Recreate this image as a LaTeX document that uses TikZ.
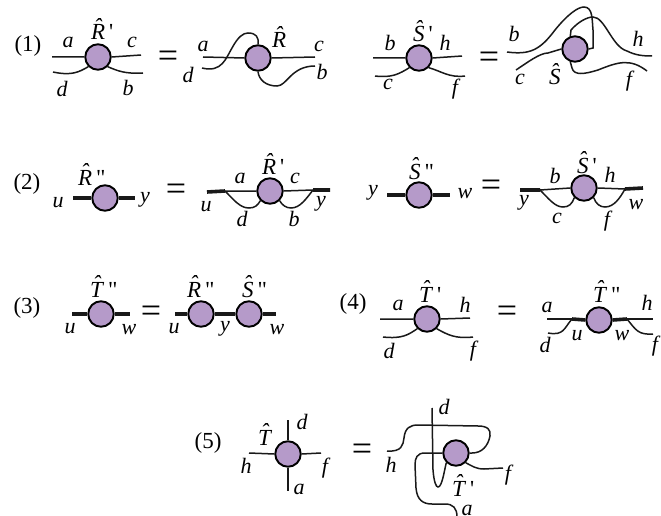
\documentclass[tikz,border=0pt]{standalone}
\usepackage{fontspec}
\setmainfont{Liberation Serif}
\definecolor{blobfill}{HTML}{B59AC9}
\newcommand{\hatlet}[1]{\setbox0=\hbox{\textit{#1}}\rlap{\hbox to\wd0{\hss\raisebox{0.25em}{\textit{\char"02C6}}\hss}}\box0}
\newcommand{\onep}{\,\textquotesingle}
\newcommand{\twop}{\,\textquotedbl}
\begin{document}
\begin{tikzpicture}[x=1pt,y=-1pt,
            blob/.style={circle,draw=black,line width=1.9pt,fill=blobfill,minimum size=25.5pt,inner sep=0pt},
            wire/.style={line width=1.5pt,black!90},
            bus/.style={line width=3.6pt,black!90},
            lab/.style={font=\fontsize{22}{22}\selectfont\itshape,inner sep=0pt,anchor=base},
            vlab/.style={font=\fontsize{23}{23}\selectfont,inner sep=0pt,anchor=base west},
            tag/.style={font=\fontsize{23}{23}\selectfont,inner sep=0pt,anchor=base},
            eqs/.style={font=\fontsize{36}{36}\selectfont,inner sep=0pt,anchor=base}]
  \useasboundingbox (0,0) rectangle (661,516);
  % vertices
  \foreach \n/\x/\y in {Ra/98/57,Rb/258/58,Sa/419/58,Sb/575/49,Rc/105/198,Rd/270/191,Sc/419/195,Sd/584/188,
      Ta/101/314,Re/201/314,Se/249/314,Tb/427/319,Tc/599/320,Td/288/454,Te/456/453}{
    \node[blob] (\n) at (\x,\y) {};}
  % free ends of the strands
  \foreach \n/\x/\y in {a1/52/57,c1/141/55,d1/53/72,b1/143/73,a2/203/57,c2/315/57,d2/202/68,b2/315/66,
      b3/373/58,h3/462/56,c3/375/76,f3/465/76,b4/507/52,h4/652/56,c4/516/70,f4/647/71,
      u5/73/198,y5/135/198,u6/207/192,j6/225/191,k6/313/190,y6/330/190,
      y7/387/195,w7/450/195,y8/520/190,j8/540/190,k8/625/189,w8/643/188,
      u9/72/314,w9/130/314,u10/175/314,w10/276/314,
      a11/380/319,h11/470/318,d11/383/337,f11/473/337,a12/547/319,h12/653/319,j12/572/319,k12/627/319,d12/548/333,f12/653/334,
      h13/249/453,f13/321/453,d13/288/420,a13/288/491,h14/387/451,d14/432/408,f14/503/468,a14/457/517}{
    \coordinate (\n) at (\x,\y);}
  % (1)
  \draw[wire] (a1) -- (Ra.west) (Ra.east) -- (c1);
  \draw[wire] (d1) .. controls (72,76) and (79,72) .. (Ra.south west);
  \draw[wire] (Ra.south east) .. controls (118,71) and (125,74) .. (b1);
  \draw[wire] (a2) -- (Rb.west) (Rb.east) -- (c2);
  \draw[wire] (d2) .. controls (222,73) and (226,58) .. (232,48) .. controls (238,37) and (243,33) .. (248,33) .. controls (256,33) and (259,37) .. (Rb.north);
  \draw[wire] (Rb.south) .. controls (259,80) and (266,86) .. (277,86) .. controls (287,86) and (291,66) .. (b2);
  \draw[wire] (b3) -- (Sa.west) (Sa.east) -- (h3);
  \draw[wire] (c3) .. controls (392,78) and (399,74) .. (Sa.south west);
  \draw[wire] (Sa.south east) .. controls (441,71) and (449,78) .. (f3);
  \draw[wire] (b4) .. controls (530,55) and (540,50) .. (555,30) .. controls (568,14) and (578,7) .. (584,7) .. controls (593,7) and (592,20) .. (593,30) -- (593,48) -- (Sb.east);
  \draw[wire] (Sb.110) -- (571,30) .. controls (578,22) and (587,17) .. (593,17) .. controls (605,17) and (612,47) .. (627,51) .. controls (635,55) and (642,56) .. (h4);
  \draw[wire] (c4) .. controls (528,62) and (540,53) .. (548,53) -- (Sb.west);
  \draw[wire] (Sb.250) -- (572,68) .. controls (574,76) and (585,74) .. (598,70) .. controls (618,62) and (630,58) .. (f4);
  % (2)
  \draw[bus] (u5) -- (Rc.west) (Rc.east) -- (y5);
  \draw[bus] (u6) -- (j6) (k6) -- (y6);
  \draw[wire] (j6) -- (Rd.west) (Rd.east) -- (k6);
  \draw[wire] (j6) .. controls (234,200) and (240,208) .. (249,208) .. controls (255,208) and (258,205) .. (Rd.south west);
  \draw[wire] (Rd.south east) .. controls (282,205) and (286,208) .. (291,208) .. controls (300,208) and (306,199) .. (k6);
  \draw[bus] (y7) -- (Sc.west) (Sc.east) -- (w7);
  \draw[bus] (y8) -- (j8) (k8) -- (w8);
  \draw[wire] (j8) -- (Sd.west) (Sd.east) -- (k8);
  \draw[wire] (j8) .. controls (549,199) and (555,207) .. (563,207) .. controls (569,207) and (572,204) .. (Sd.south west);
  \draw[wire] (Sd.south east) .. controls (596,204) and (600,207) .. (605,207) .. controls (614,207) and (620,198) .. (k8);
  % (3)
  \draw[bus] (u9) -- (Ta.west) (Ta.east) -- (w9);
  \draw[bus] (u10) -- (Re.west) (Re.east) -- (Se.west) (Se.east) -- (w10);
  % (4)
  \draw[wire] (a11) -- (Tb.west) (Tb.east) -- (h11);
  \draw[wire] (d11) .. controls (402,339) and (408,335) .. (Tb.south west);
  \draw[wire] (Tb.south east) .. controls (448,335) and (456,339) .. (f11);
  \draw[wire] (a12) -- (j12) (k12) -- (h12);
  \draw[bus] (j12) -- (Tc.west) (Tc.east) -- (k12);
  \draw[wire] (d12) .. controls (564,336) and (564,328) .. (j12);
  \draw[wire] (k12) .. controls (636,330) and (638,335) .. (f12);
  % (5)
  \draw[wire] (h13) -- (Td.west) (Td.east) -- (f13);
  \draw[wire] (d13) -- (Td.north) (Td.south) -- (a13);
  \draw[wire] (d14) -- (433,470) .. controls (434,482) and (436,487) .. (438,487) .. controls (442,487) and (444,472) .. (Te.south west);
  \draw[wire] (h14) .. controls (402,452) and (403,445) .. (404,438) .. controls (405,428) and (410,425) .. (418,425) -- (478,426) .. controls (488,426) and (491,430) .. (490,436) .. controls (488,446) and (482,453) .. (472,453) -- (Te.east);
  \draw[wire] (Te.west) -- (425,453) .. controls (417,453) and (415,458) .. (415,465) -- (416,488) .. controls (417,500) and (423,504) .. (432,504) -- (445,504) .. controls (453,504) and (457,508) .. (a14);
  \draw[wire] (Te.south east) .. controls (472,466) and (476,469) .. (484,469) -- (f14);
  % equation numbers
  \foreach \x/\y/\lab [count=\i] in {28/52/(1),27/189/(2),27/313/(3),353/309/(4),208/448/(5)}{
    \node[tag] (tag\i) at (\x,\y) {\lab};}
  % equals signs
  \foreach \x/\y [count=\i] in {168/68,489/69,176/200,491/196,151/322,507/322,362/460}{
    \node[eqs] (eq\i) at (\x,\y) {=};}
  % strand labels
  \foreach \x/\y/\lab [count=\i] in {68/48/a,132/48/c,62/97/d,128/96/b,203/52/a,319/52/c,188/83/d,322/80/b,
      390/51/b,445/51/h,388/90/c,455/95/f,514/42/b,638/47/h,520/85/c,629/87/f,
      58/207/u,145/202/y,240/183/a,295/183/c,242/226/d,294/226/b,206/211/u,321/206/y,
      373/195/y,465/198/w,555/183/b,610/182/h,557/223/c,607/226/f,524/205/y,636/209/w,
      70/333/u,129/334/w,174/333/u,225/331/y,277/334/w,
      398/310/a,465/312/h,389/358/d,473/356/f,547/312/a,647/310/h,545/352/d,655/351/f,577/340/u,622/340/w,
      302/429/d,246/473/h,325/473/f,299/494/a,391/472/h,444/414/d,508/480/f,467/515/a}{
    \node[lab] (lab\i) at (\x,\y) {\lab};}
  % vertex labels
  \foreach \x/\y/\lab [count=\i] in {91/40/\hatlet{R}\onep,272/48/\hatlet{R},413/42/\hatlet{S}\onep,549/85/\hatlet{S},
      78/185/\hatlet{R}\twop,262/175/\hatlet{R}\onep,409/179/\hatlet{S}\twop,577/173/\hatlet{S}\onep,
      90/297/\hatlet{T}\twop,187/297/\hatlet{R}\twop,242/297/\hatlet{S}\twop,419/302/\hatlet{T}\onep,593/302/\hatlet{T}\twop,
      258/445/\hatlet{T},452/496/\hatlet{T}\onep}{
    \node[vlab] (name\i) at (\x,\y) {\lab};}
\end{tikzpicture}
\end{document}
